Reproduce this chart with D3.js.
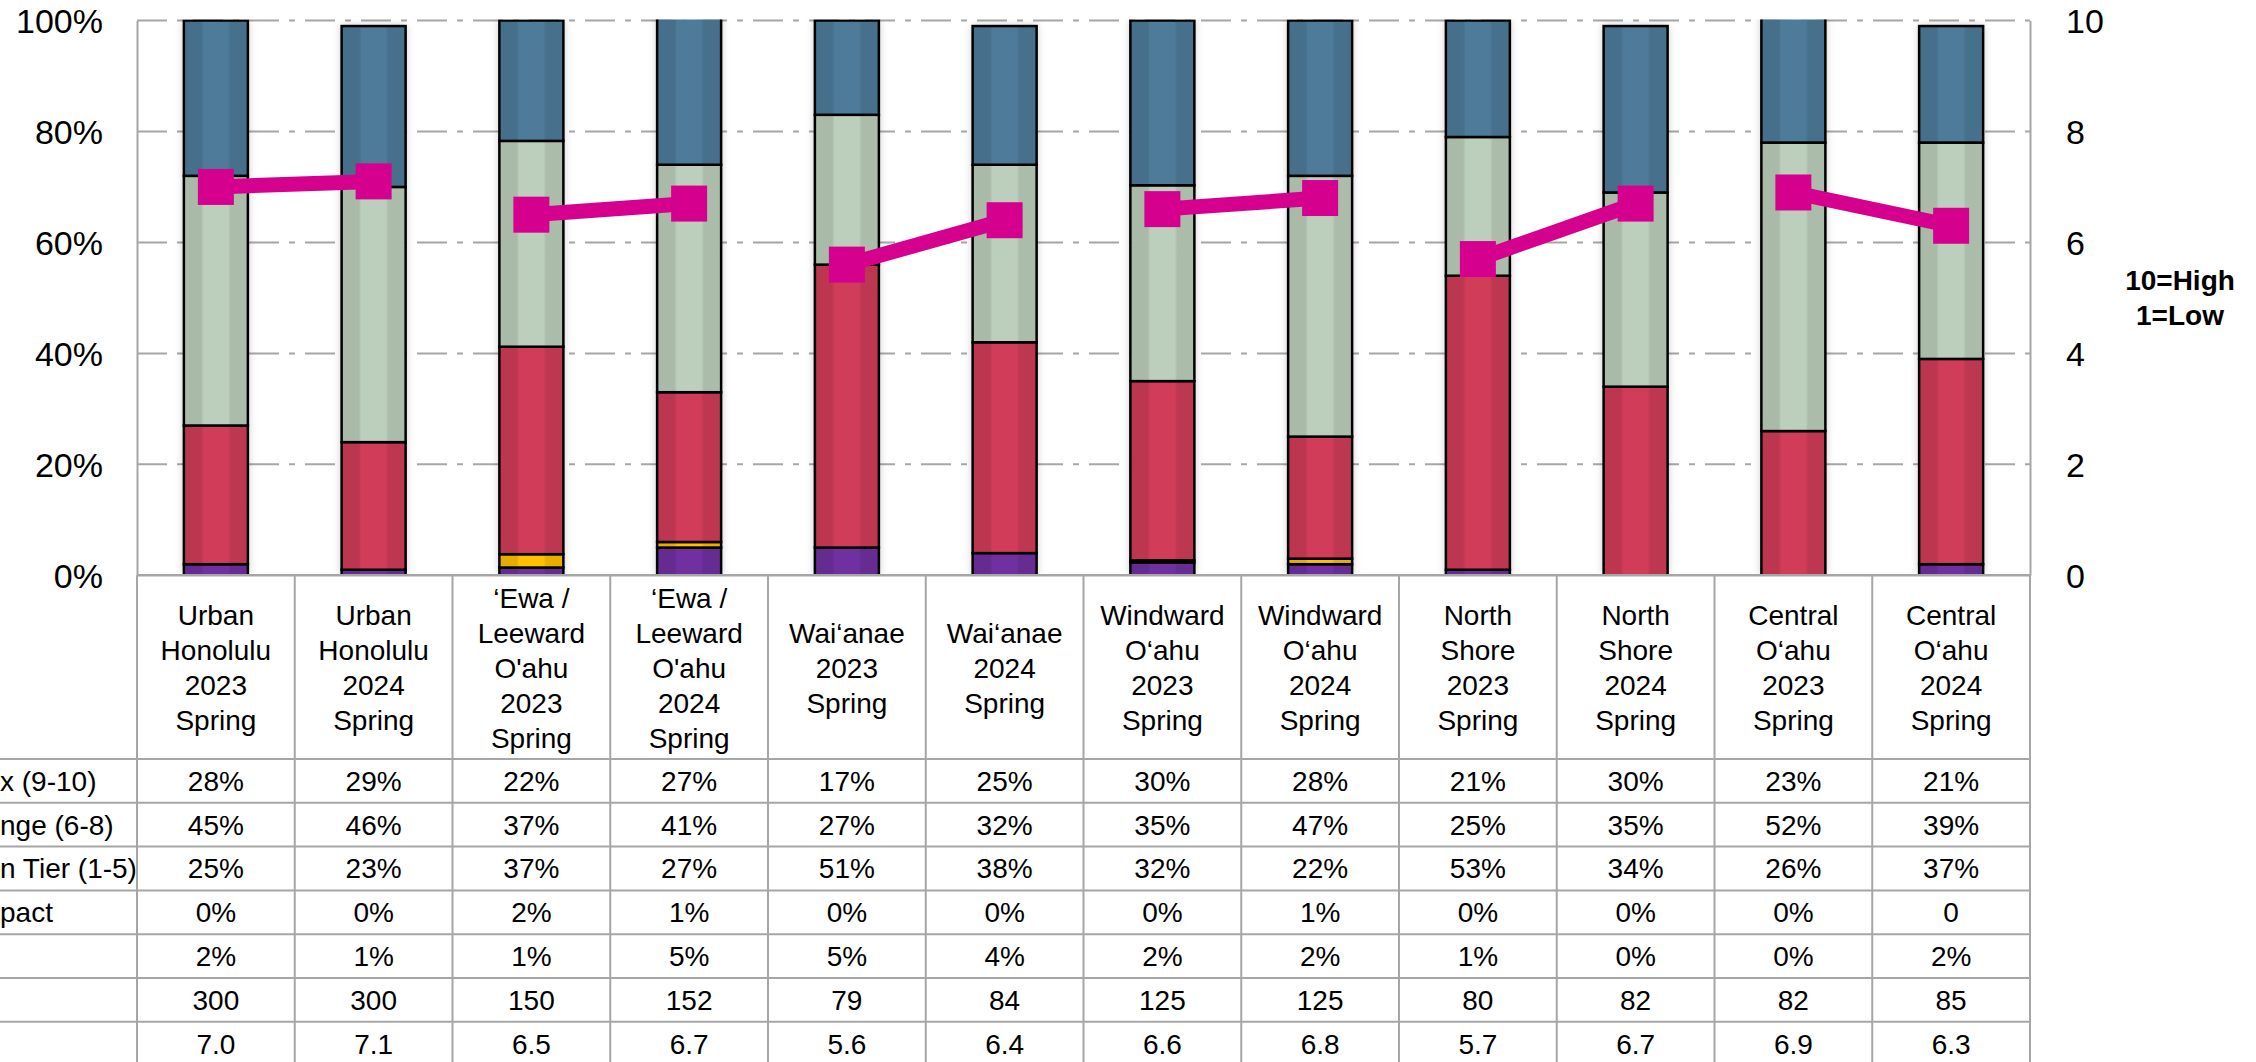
<!DOCTYPE html>
<meta charset="utf-8">
<style>
body {
  margin: 0;
  background: #fff;
}
svg text {
  font-family: "Liberation Sans", Arial, sans-serif;
  fill: #000;
}
</style>
<body>
<div id="graph"></div>
<script src="https://d3js.org/d3.v7.min.js"></script>
<script>
// column headers (one line per array item)
var categories = [
  ["Urban", "Honolulu", "2023", "Spring"],
  ["Urban", "Honolulu", "2024", "Spring"],
  ["\u2018Ewa /", "Leeward", "O'ahu", "2023", "Spring"],
  ["\u2018Ewa /", "Leeward", "O'ahu", "2024", "Spring"],
  ["Wai\u2018anae", "2023", "Spring"],
  ["Wai\u2018anae", "2024", "Spring"],
  ["Windward", "O\u2018ahu", "2023", "Spring"],
  ["Windward", "O\u2018ahu", "2024", "Spring"],
  ["North", "Shore", "2023", "Spring"],
  ["North", "Shore", "2024", "Spring"],
  ["Central", "O\u2018ahu", "2023", "Spring"],
  ["Central", "O\u2018ahu", "2024", "Spring"]
];

// series values (percent); the table shows them rounded
var topBox    = [28, 29, 21.7, 27, 17, 25, 29.7, 28, 21, 30, 23, 21];
var midRange  = [45, 46, 37.1, 41, 27, 32, 35.3, 47, 25, 35, 52, 39];
var lowTier   = [25, 23, 37.4, 27, 51, 38, 32.3, 22, 53, 34, 26, 37];
var impact    = [0, 0, 2.4, 1, 0, 0, 0.4, 1, 0, 0, 0, null]; // null = shown as plain "0"
var other     = [2, 1, 1.4, 5, 5, 4, 2.3, 2, 1, 0, 0, 2];
var baseN     = [300, 300, 150, 152, 79, 84, 125, 125, 80, 82, 82, 85];
var meanScore = [7.0, 7.1, 6.5, 6.7, 5.6, 6.4, 6.6, 6.8, 5.7, 6.7, 6.9, 6.3];

// row labels as they show at the left edge (cut off in the source)
var rowLabels = ["x (9-10)", "nge (6-8)", "n Tier (1-5)", "pact", "", "", ""];

var leftTicks = [0, 20, 40, 60, 80, 100];
var rightTicks = [0, 2, 4, 6, 8, 10];

var width = 2256, height = 1062;
var plot = {left: 137, right: 2030, top: 20.5, bottom: 575.3};
var headerBottom = 759, rowH = 43.8;

var svg = d3.select("#graph").append("svg")
  .attr("width", width)
  .attr("height", height);

var defs = svg.append("defs");
defs.append("clipPath").attr("id", "plotclip")
  .append("rect")
  .attr("x", plot.left).attr("y", plot.top - 1)
  .attr("width", plot.right - plot.left).attr("height", plot.bottom - plot.top + 1);

// the bar look: darker strips left and right
var grad = defs.append("linearGradient").attr("id", "shade")
  .attr("x1", "0%").attr("x2", "100%").attr("y1", "0%").attr("y2", "0%");
[[0, 0.10], [0.27, 0.10], [0.31, 0], [0.69, 0], [0.73, 0.09], [1, 0.09]].forEach(function(s) {
  grad.append("stop").attr("offset", s[0]).attr("stop-color", "#000").attr("stop-opacity", s[1]);
});
var shadow = defs.append("filter").attr("id", "shadow")
  .attr("x", "-30%").attr("y", "-5%").attr("width", "160%").attr("height", "110%");
shadow.append("feDropShadow").attr("dx", 0).attr("dy", 0)
  .attr("stdDeviation", 4).attr("flood-color", "#000").attr("flood-opacity", 0.25);

var idx = d3.range(categories.length);

var x = d3.scaleBand()
  .domain(idx)
  .range([plot.left, plot.right]);

var y = d3.scaleLinear()
  .domain([0, 100])
  .range([plot.bottom, plot.top]);

var yRight = d3.scaleLinear()
  .domain([0, 10])
  .range([plot.bottom, plot.top]);

// gridlines
svg.append("g")
  .selectAll("line")
  .data(leftTicks.filter(function(d) { return d > 0; }))
  .enter().append("line")
  .attr("x1", plot.left).attr("x2", plot.right)
  .attr("y1", function(d) { return y(d); })
  .attr("y2", function(d) { return y(d); })
  .attr("stroke", "#a6a6a6")
  .attr("stroke-width", 2)
  .attr("stroke-dasharray", "30,10,6,10");

// axes
var leftAxis = svg.append("g")
  .attr("transform", "translate(" + plot.left + ",0)")
  .call(d3.axisLeft(y).tickValues(leftTicks).tickSize(0).tickPadding(34)
    .tickFormat(function(d) { return d + "%"; }));
var rightAxis = svg.append("g")
  .attr("transform", "translate(" + plot.right + ",0)")
  .call(d3.axisRight(yRight).tickValues(rightTicks).tickSize(0).tickPadding(36));
[leftAxis, rightAxis].forEach(function(a) {
  a.select(".domain").attr("stroke", "#a6a6a6").attr("stroke-width", 2);
  a.selectAll("text")
    .style("font-size", "34px")
    .style("font-family", "'Liberation Sans', Arial, sans-serif")
    .attr("fill", "#000")
    .attr("dy", "0.35em");
});

// stacked bars, bottom segment first
var keys = ["other", "impact", "low", "mid", "top"];
var colors = {other: "#7030a0", impact: "#ffc000", low: "#d13c58", mid: "#bccfbc", top: "#4d7b99"};
var stackData = idx.map(function(i) {
  return {i: i, other: other[i], impact: impact[i] || 0, low: lowTier[i], mid: midRange[i], top: topBox[i]};
});
var series = d3.stack().keys(keys)(stackData);

var barW = 64;
var bars = svg.append("g").attr("clip-path", "url(#plotclip)");

// soft shadow behind each bar
bars.append("g")
  .selectAll("rect")
  .data(stackData)
  .enter().append("rect")
  .attr("x", function(d) { return x(d.i) + x.bandwidth() / 2 - barW / 2; })
  .attr("y", function(d) { return y(d3.sum(keys, function(k) { return d[k]; })); })
  .attr("width", barW)
  .attr("height", function(d) { return y(0) - y(d3.sum(keys, function(k) { return d[k]; })); })
  .attr("fill", "#fff")
  .attr("filter", "url(#shadow)");

series.forEach(function(s) {
  var g = bars.append("g");
  var seg = g.selectAll("g")
    .data(s)
    .enter().append("g");
  seg.append("rect")
    .attr("x", function(d) { return x(d.data.i) + x.bandwidth() / 2 - barW / 2; })
    .attr("y", function(d) { return y(d[1]); })
    .attr("width", barW)
    .attr("height", function(d) { return y(d[0]) - y(d[1]); })
    .attr("fill", colors[s.key]);
  seg.append("rect")
    .attr("x", function(d) { return x(d.data.i) + x.bandwidth() / 2 - barW / 2; })
    .attr("y", function(d) { return y(d[1]); })
    .attr("width", barW)
    .attr("height", function(d) { return y(d[0]) - y(d[1]); })
    .attr("fill", "url(#shade)")
    .attr("stroke", "#000")
    .attr("stroke-width", 2.5);
});

// mean score line, joined only within each region (2023 -> 2024)
var pairs = d3.range(0, meanScore.length, 2).map(function(i) {
  return [i, i + 1];
});
var line = d3.line()
  .x(function(i) { return x(i) + x.bandwidth() / 2; })
  .y(function(i) { return yRight(meanScore[i]); });
svg.append("g")
  .selectAll("path")
  .data(pairs)
  .enter().append("path")
  .attr("d", line)
  .attr("fill", "none")
  .attr("stroke", "#d6008f")
  .attr("stroke-width", 15);

var mk = 36;
svg.append("g")
  .selectAll("rect")
  .data(idx)
  .enter().append("rect")
  .attr("x", function(i) { return x(i) + x.bandwidth() / 2 - mk / 2; })
  .attr("y", function(i) { return yRight(meanScore[i]) - mk / 2; })
  .attr("width", mk)
  .attr("height", mk)
  .attr("fill", "#d6008f");

// legend for the right axis
svg.append("text")
  .attr("x", 2180).attr("y", 280)
  .attr("text-anchor", "middle").attr("dy", "0.35em")
  .style("font-size", "28px").style("font-weight", "bold")
  .text("10=High");
svg.append("text")
  .attr("x", 2180).attr("y", 315)
  .attr("text-anchor", "middle").attr("dy", "0.35em")
  .style("font-size", "28px").style("font-weight", "bold")
  .text("1=Low");

// data table under the chart
var table = svg.append("g");
var pct = function(d) { return Math.round(d) + "%"; };
var rows = [
  topBox.map(pct),
  midRange.map(pct),
  lowTier.map(pct),
  impact.map(function(d) { return d === null ? "0" : pct(d); }),
  other.map(pct),
  baseN.map(function(d) { return String(d); }),
  meanScore.map(function(d) { return d.toFixed(1); })
];
var rowTops = d3.range(rows.length + 1).map(function(r) { return headerBottom + r * rowH; });

table.selectAll("line.h")
  .data(rowTops)
  .enter().append("line")
  .attr("class", "h")
  .attr("x1", 0).attr("x2", plot.right)
  .attr("y1", function(d) { return d; }).attr("y2", function(d) { return d; })
  .attr("stroke", "#a6a6a6").attr("stroke-width", 2);

table.selectAll("line.v")
  .data(d3.range(categories.length + 1))
  .enter().append("line")
  .attr("class", "v")
  .attr("x1", function(i) { return plot.left + i * x.step(); })
  .attr("x2", function(i) { return plot.left + i * x.step(); })
  .attr("y1", plot.bottom).attr("y2", height)
  .attr("stroke", "#a6a6a6").attr("stroke-width", 2);

table.append("line")
  .attr("x1", plot.left).attr("x2", plot.right)
  .attr("y1", plot.bottom).attr("y2", plot.bottom)
  .attr("stroke", "#a6a6a6").attr("stroke-width", 2.5);

// header labels, vertically centred in the header cell
var headMid = (plot.bottom + headerBottom) / 2 + 1, lh = 35;
categories.forEach(function(lines, i) {
  var t = table.append("text")
    .attr("text-anchor", "middle")
    .style("font-size", "28px");
  lines.forEach(function(s, k) {
    t.append("tspan")
      .attr("x", x(i) + x.bandwidth() / 2)
      .attr("y", headMid + (k - (lines.length - 1) / 2) * lh)
      .attr("dy", "0.35em")
      .text(s);
  });
});

rows.forEach(function(r, ri) {
  var cy = rowTops[ri] + rowH / 2;
  table.append("g")
    .selectAll("text")
    .data(r)
    .enter().append("text")
    .attr("x", function(d, i) { return x(i) + x.bandwidth() / 2; })
    .attr("y", cy)
    .attr("dy", "0.35em")
    .attr("text-anchor", "middle")
    .style("font-size", "28px")
    .text(function(d) { return d; });
  if (rowLabels[ri]) {
    table.append("text")
      .attr("x", 0)
      .attr("y", cy)
      .attr("dy", "0.35em")
      .style("font-size", "28px")
      .text(rowLabels[ri]);
  }
});
</script>
</body>
